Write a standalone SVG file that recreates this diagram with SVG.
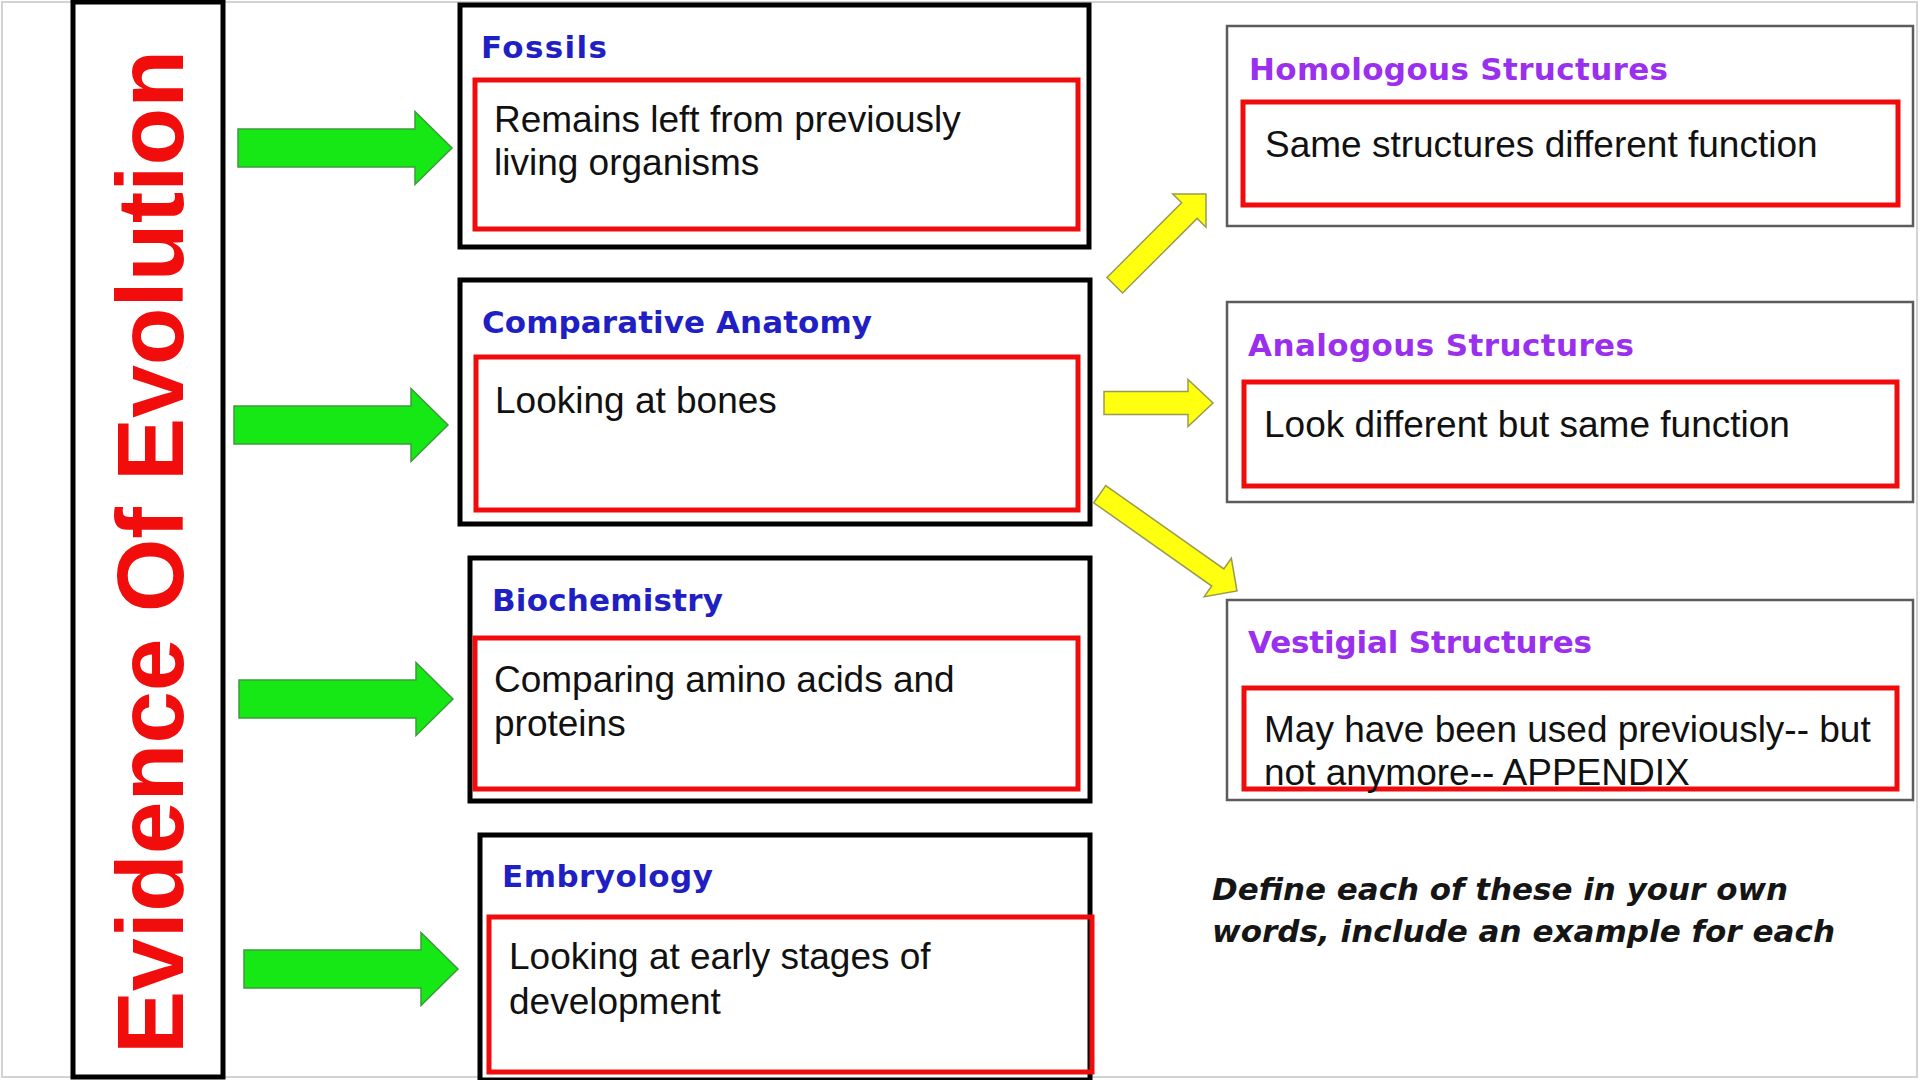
<svg xmlns="http://www.w3.org/2000/svg" width="1920" height="1080" viewBox="0 0 1920 1080">
<style>
.page{fill:#ffffff;stroke:#d2d2d2;stroke-width:2}
.outer{fill:#ffffff;stroke:#000000;stroke-width:5}
.gray{fill:#ffffff;stroke:#5c5c5c;stroke-width:2.5}
.red{fill:none;stroke:#f00c0c;stroke-width:5}
.ttl{font-family:"DejaVu Sans",Verdana,sans-serif;font-weight:bold;font-size:31px}
.blue{fill:#1f1fc4}
.purple{fill:#9a30ee}
.body{font-family:"Liberation Sans",Arial,sans-serif;font-size:37px;fill:#111111}
.big{font-family:"Liberation Sans",Arial,sans-serif;font-weight:bold;font-size:95px;fill:#f20d0d}
.note{font-family:"DejaVu Sans",Verdana,sans-serif;font-weight:bold;font-style:italic;font-size:31px;fill:#151515}
.green{fill:#16e816;stroke:#3c9a3c;stroke-width:1.5;stroke-linejoin:miter}
.yellow{fill:#ffff10;stroke:#9a9a50;stroke-width:1.5;stroke-linejoin:miter}
</style>
<defs>
<polygon id="garrow" points="-214,-19 -37,-19 -37,-36.5 0,0 -37,36.5 -37,19 -214,19"/>
</defs>
<rect class="page" x="2" y="2" width="1915" height="1075"/>

<g id="title">
<rect class="outer" x="73" y="2" width="150" height="1075"/>
<text class="big" transform="translate(183,1054) rotate(-90)" x="0" y="0" textLength="1004" lengthAdjust="spacingAndGlyphs">Evidence Of Evolution</text>
</g>

<g id="fossils">
<rect class="outer" x="460" y="5" width="629" height="242"/>
<rect class="red" x="475" y="80" width="603" height="149"/>
<text class="ttl blue" x="481" y="58" textLength="126" lengthAdjust="spacing">Fossils</text>
<text class="body" x="494" y="132">Remains left from previously</text>
<text class="body" x="494" y="175">living organisms</text>
</g>

<g id="comparative-anatomy">
<rect class="outer" x="460" y="280" width="630" height="244"/>
<rect class="red" x="476" y="357" width="602" height="153"/>
<text class="ttl blue" x="482" y="333" textLength="390" lengthAdjust="spacing">Comparative Anatomy</text>
<text class="body" x="495" y="413">Looking at bones</text>
</g>

<g id="biochemistry">
<rect class="outer" x="470" y="558" width="620" height="243"/>
<rect class="red" x="475" y="638" width="603" height="151"/>
<text class="ttl blue" x="492" y="611" textLength="231" lengthAdjust="spacing">Biochemistry</text>
<text class="body" x="494" y="692">Comparing amino acids and</text>
<text class="body" x="494" y="736">proteins</text>
</g>

<g id="embryology">
<rect class="outer" x="480" y="835" width="610" height="245"/>
<rect class="red" x="489" y="917" width="603" height="155"/>
<text class="ttl blue" x="502" y="887" textLength="211" lengthAdjust="spacing">Embryology</text>
<text class="body" x="509" y="969">Looking at early stages of</text>
<text class="body" x="509" y="1014">development</text>
</g>

<g id="homologous">
<rect class="gray" x="1227" y="26" width="686" height="200"/>
<rect class="red" x="1243" y="102" width="655" height="103"/>
<text class="ttl purple" x="1249" y="80" textLength="419" lengthAdjust="spacing">Homologous Structures</text>
<text class="body" x="1265" y="157">Same structures different function</text>
</g>

<g id="analogous">
<rect class="gray" x="1227" y="302" width="686" height="200"/>
<rect class="red" x="1244" y="382" width="653" height="104"/>
<text class="ttl purple" x="1248" y="356" textLength="386" lengthAdjust="spacing">Analogous Structures</text>
<text class="body" x="1264" y="437">Look different but same function</text>
</g>

<g id="vestigial">
<rect class="gray" x="1227" y="600" width="686" height="200"/>
<rect class="red" x="1244" y="688" width="653" height="101"/>
<text class="ttl purple" x="1248" y="653" textLength="344" lengthAdjust="spacing">Vestigial Structures</text>
<text class="body" x="1264" y="742">May have been used previously-- but</text>
<text class="body" x="1264" y="785">not anymore-- APPENDIX</text>
</g>

<g id="instruction">
<text class="note" x="1212" y="900" textLength="576" lengthAdjust="spacingAndGlyphs">Define each of these in your own</text>
<text class="note" x="1212" y="942" textLength="623" lengthAdjust="spacingAndGlyphs">words, include an example for each</text>
</g>

<g id="connectors">
<use href="#garrow" class="green" transform="translate(452,148)"/>
<use href="#garrow" class="green" transform="translate(448,425)"/>
<use href="#garrow" class="green" transform="translate(453,699)"/>
<use href="#garrow" class="green" transform="translate(458,969)"/>
<polygon class="yellow" transform="translate(1206,194) rotate(-45)" points="-129,-11 -23.5,-11 -23.5,-23.5 0,0 -23.5,23.5 -23.5,11 -129,11"/>
<polygon class="yellow" transform="translate(1213,403)" points="-109,-11.5 -25,-11.5 -25,-23.5 0,0 -25,23.5 -25,11.5 -109,11.5"/>
<polygon class="yellow" transform="translate(1237,591) rotate(35.2)" points="-168,-10.5 -23.5,-10.5 -23.5,-23.5 0,0 -23.5,23.5 -23.5,10.5 -168,10.5"/>
</g>
</svg>
